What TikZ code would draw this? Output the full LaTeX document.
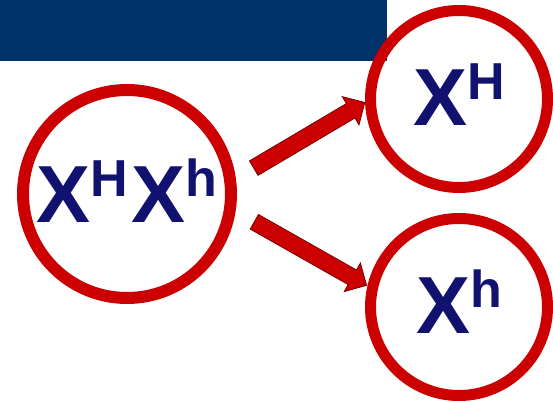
\documentclass[tikz,border=0pt]{standalone}
\usepackage{fontspec}
\setmainfont{Liberation Sans}
\usetikzlibrary{shapes.arrows}

\definecolor{rojo}{HTML}{CC0000}
\definecolor{rojooscuro}{HTML}{7A0000}
\definecolor{azul}{HTML}{111170}
\definecolor{barra}{HTML}{00336A}

% alelo con superindice
\newcommand{\alelo}[1]{X\raisebox{26pt}{\fontsize{52}{52}\selectfont #1}}

\tikzset{
	gameto/.style={circle, draw=rojo, line width=11pt, minimum size=177pt, inner sep=0pt,
		text=azul, text height=53pt, text depth=0pt,
		font=\fontsize{81}{81}\selectfont\bfseries},
	flecha/.style={single arrow, draw=rojooscuro, fill=rojo, line width=0.8pt,
		minimum height=129pt, single arrow head extend=8pt,
		single arrow head indent=0pt, inner xsep=0pt, inner ysep=8pt, sloped}
}

\begin{document}
\begin{tikzpicture}[x=1pt, y=1pt]

	\useasboundingbox (0,0) rectangle (553,401);

	% 1. Barra superior
	\fill[barra] (0,340) rectangle (387,401);

	% 2. Nodos (celula y gametos)
	\node[gameto, line width=12pt, minimum size=208pt, text height=58pt] (XHXh) at (127,207) {\alelo{H}\kern4pt\alelo{h}};
	\node[gameto] (XH) at (459,302) {\alelo{H}};
	\node[gameto] (Xh) at (459,94) {\alelo{h}};

	% 3. Flechas de la celula a los gametos
	\path (XHXh.8) -- node[flecha, pos=0.54] {} (XH.182);
	\path (XHXh.-9) -- node[flecha, pos=0.54] {} (Xh.167);

\end{tikzpicture}
\end{document}
